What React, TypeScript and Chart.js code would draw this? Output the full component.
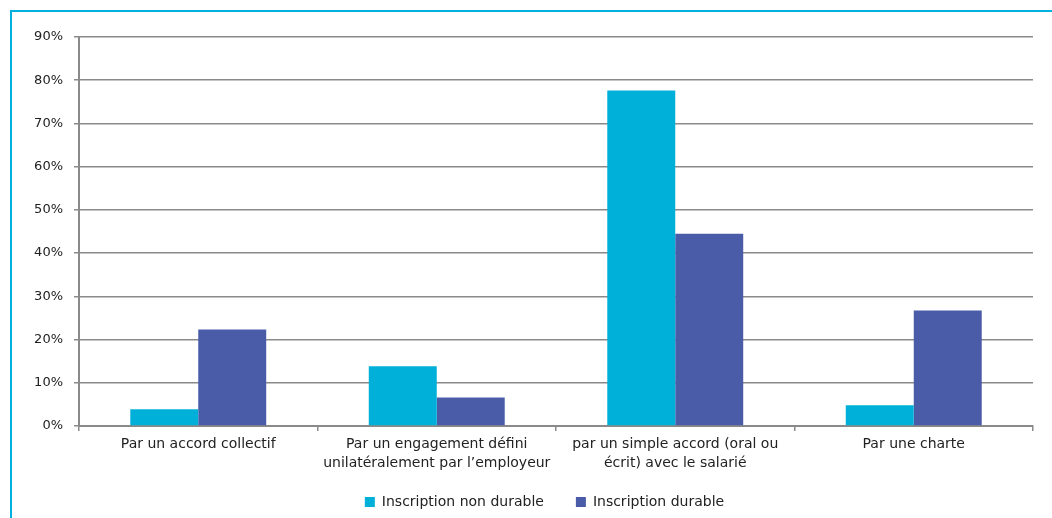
import React, { useEffect, useRef } from "react";
import { Chart, registerables } from "chart.js";

Chart.register(...registerables);

const categories: (string | string[])[] = [
  "Par un accord collectif",
  ["Par un engagement défini", "unilatéralement par l’employeur"],
  ["par un simple accord (oral ou", "écrit) avec le salarié"],
  "Par une charte",
];
const nonDurable = [3.9, 13.8, 77.6, 4.8];
const durable = [22.3, 6.6, 44.5, 26.7];
const seriesNames = ["Inscription non durable", "Inscription durable"];
const yMax = 90;
const yStep = 10;

const FONT = "'DejaVu Sans', 'Open Sans', sans-serif";

const legendShift = {
  id: "legendShift",
  afterLayout(chart: any) {
    const l = chart.legend;
    if (l) {
      l.top -= 15;
      l.height += 15;
      l.left += 28;
      l.right += 28;
    }
  },
};

export default function App() {
  const ref = useRef<HTMLCanvasElement | null>(null);
  useEffect(() => {
    if (!ref.current) return;
    const chart = new Chart(ref.current, {
      type: "bar",
      data: {
        labels: categories,
        datasets: [
          {
            label: seriesNames[0],
            data: nonDurable,
            backgroundColor: "#00B0D8",
            barPercentage: 1,
            categoryPercentage: 0.57,
          },
          {
            label: seriesNames[1],
            data: durable,
            backgroundColor: "#4A5CA8",
            barPercentage: 1,
            categoryPercentage: 0.57,
          },
        ],
      },
      plugins: [legendShift],
      options: {
        responsive: false,
        animation: false,
        layout: { padding: { left: 0, right: 19, top: 37, bottom: 0 } },
        plugins: {
          tooltip: { enabled: false },
          legend: {
            position: "bottom",
            maxHeight: 40,
            labels: {
              boxWidth: 10,
              boxHeight: 10,
              padding: 32,
              color: "#222",
              font: { family: FONT, size: 14 },
            },
          },
        },
        scales: {
          x: {
            afterFit: (s: any) => {
              s.height = 52;
            },
            grid: {
              offset: true,
              drawOnChartArea: false,
              drawTicks: true,
              tickLength: 5,
              color: "#8a8a8a",
              lineWidth: 1.5,
            },
            border: { color: "#8a8a8a", width: 2 },
            ticks: {
              color: "#222",
              padding: 4,
              maxRotation: 0,
              autoSkip: false,
              font: { family: FONT, size: 14, lineHeight: 1.36 },
            },
          },
          y: {
            min: 0,
            max: yMax,
            afterFit: (s: any) => {
              s.width = 79;
            },
            grid: {
              color: "#8a8a8a",
              lineWidth: 1.5,
              tickLength: 5,
            },
            border: { color: "#8a8a8a", width: 2 },
            ticks: {
              stepSize: yStep,
              color: "#222",
              padding: 11,
              font: { family: FONT, size: 13 },
              callback: (v: any) => v + "%",
            },
          },
        },
      },
    });
    return () => chart.destroy();
  }, []);
  return (
    <div
      style={{
        position: "fixed",
        left: 0,
        top: 0,
        width: 1052,
        height: 518,
        overflow: "hidden",
        background: "#fff",
      }}
    >
      <canvas ref={ref} width={1052} height={518} style={{ position: "absolute", left: 0, top: 0 }} />
      <div
        style={{
          position: "absolute",
          left: 10,
          top: 10,
          width: 1200,
          height: 700,
          border: "2px solid #00B0DE",
          boxSizing: "border-box",
          pointerEvents: "none",
        }}
      />
    </div>
  );
}
